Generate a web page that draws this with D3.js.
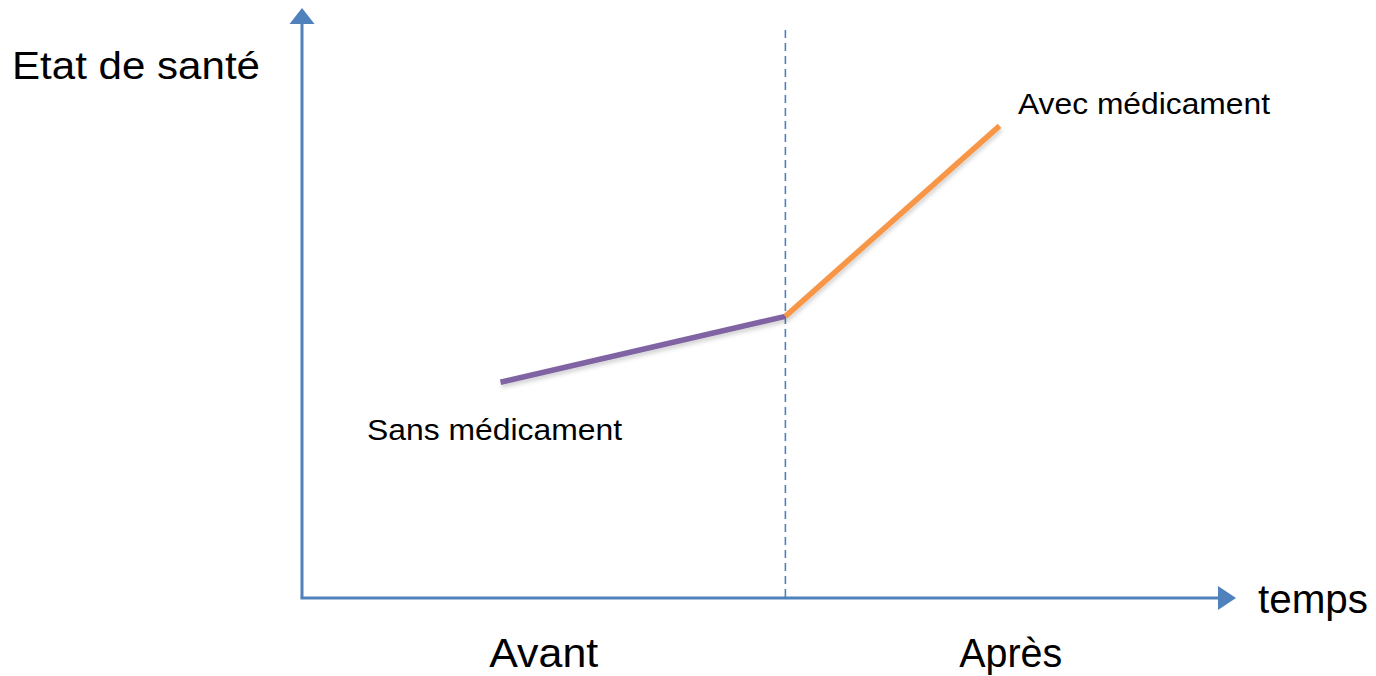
<!DOCTYPE html>
<html lang="fr">
<head>
    <meta charset="UTF-8">
    <title>Etat de santé</title>
    <script src="https://d3js.org/d3.v7.min.js"></script>
    <style>
        body { margin: 0; background: #fff; }
        text { font-family: "Liberation Sans", Arial, sans-serif; fill: #000; }
    </style>
</head>
<body>
    <svg id="chart"></svg>
    <script>
        // Data (0-100 on both axes)
        var tempsSans = [21.6, 52.6];
        var santeSans = [36.7, 47.9];
        var tempsAvec = [52.6, 75.9];
        var santeAvec = [47.9, 80.3];
        var intervention = 52.6;
        var phases = ["Avant", "Après"];
        var seriesLabels = ["Sans médicament", "Avec médicament"];
        var axisLabels = ["Etat de santé", "temps"];

        var width = 1376, height = 676;
        var origin = { x: 302, y: 598 };
        var xEnd = 1221, yEnd = 10;

        var svg = d3.select('#chart')
            .attr('width', width)
            .attr('height', height);

        var x = d3.scaleLinear().domain([0, 100]).range([origin.x, xEnd]);
        var y = d3.scaleLinear().domain([0, 100]).range([origin.y, yEnd]);

        var axisColor = '#4f81bd';

        // soft shadow under the curves
        var defs = svg.append('defs');
        var f = defs.append('filter').attr('id', 'shadow')
            .attr('x', '-10%').attr('y', '-10%').attr('width', '130%').attr('height', '140%');
        f.append('feDropShadow')
            .attr('dx', 1).attr('dy', 3).attr('stdDeviation', 2)
            .attr('flood-color', '#000').attr('flood-opacity', 0.18);

        // dashed separator
        svg.append('line')
            .attr('x1', x(intervention)).attr('x2', x(intervention))
            .attr('y1', 30).attr('y2', origin.y)
            .attr('stroke', axisColor)
            .attr('stroke-width', 1.6)
            .attr('stroke-dasharray', '8,5');

        // axes
        svg.append('line')
            .attr('x1', origin.x).attr('y1', origin.y)
            .attr('x2', origin.x).attr('y2', 22)
            .attr('stroke', axisColor).attr('stroke-width', 3);
        svg.append('path')
            .attr('d', 'M' + (origin.x - 12.5) + ',24 L' + origin.x + ',8 L' + (origin.x + 12.5) + ',24 Z')
            .attr('fill', axisColor);

        svg.append('line')
            .attr('x1', origin.x - 1.5).attr('y1', origin.y)
            .attr('x2', 1220).attr('y2', origin.y)
            .attr('stroke', axisColor).attr('stroke-width', 3);
        svg.append('path')
            .attr('d', 'M1218,' + (origin.y - 12) + ' L1236,' + origin.y + ' L1218,' + (origin.y + 12) + ' Z')
            .attr('fill', axisColor);

        var line = d3.line()
            .x(d => x(d[0]))
            .y(d => y(d[1]));

        svg.append('path')
            .datum(d3.zip(tempsSans, santeSans))
            .attr('d', line)
            .attr('fill', 'none')
            .attr('stroke', '#8064a2')
            .attr('stroke-width', 5.5)
            .attr('filter', 'url(#shadow)');

        svg.append('path')
            .datum(d3.zip(tempsAvec, santeAvec))
            .attr('d', line)
            .attr('fill', 'none')
            .attr('stroke', '#f79646')
            .attr('stroke-width', 5.5)
            .attr('filter', 'url(#shadow)');

        // labels (glyphs are a little wide in the original, so stretch to its widths)
        function label(txt, px, py, size, len, anchor) {
            svg.append('text')
                .attr('x', px).attr('y', py)
                .attr('textLength', len)
                .attr('lengthAdjust', 'spacingAndGlyphs')
                .style('font-size', size + 'px')
                .style('text-anchor', anchor || 'start')
                .text(txt);
        }

        label(axisLabels[0], 12, 79, 38, 248);
        label(axisLabels[1], 1258, 613, 40, 110);

        var phaseCenters = [(x(0) + x(intervention)) / 2, (x(intervention) + 1236) / 2];
        label(phases[0], phaseCenters[0], 667, 41, 109, 'middle');
        label(phases[1], phaseCenters[1], 667, 41, 103, 'middle');

        label(seriesLabels[0], 367, 440, 29, 255);
        label(seriesLabels[1], 1018, 114, 29, 252);
    </script>
</body>
</html>
